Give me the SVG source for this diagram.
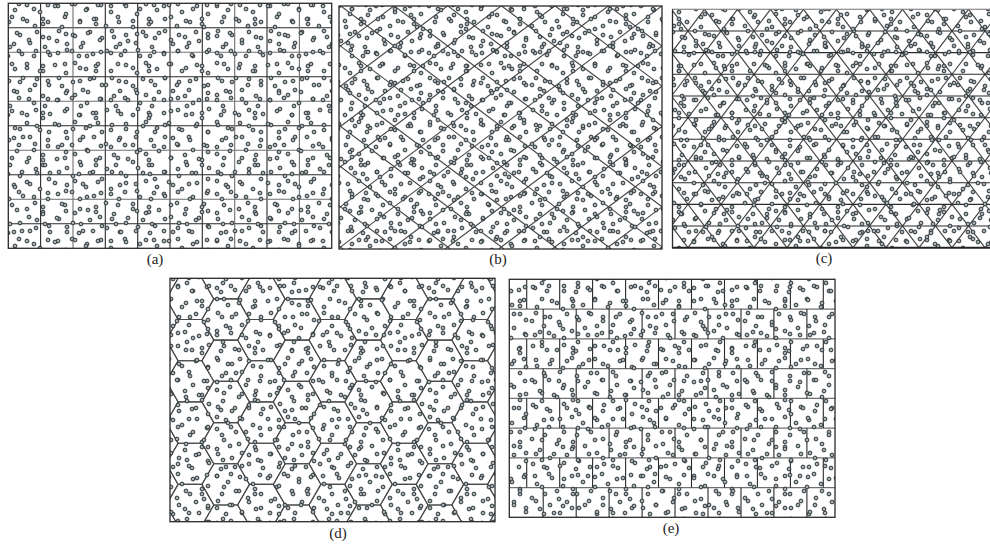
<svg xmlns="http://www.w3.org/2000/svg" xmlns:xlink="http://www.w3.org/1999/xlink" width="990" height="544" viewBox="0 0 990 544">
<style>
.dot{fill:#a9b4b8;stroke:#2b3135;stroke-width:1}
.bd{fill:none;stroke:#2a2a2a;stroke-width:1.3}
.dk{fill:none;stroke:#2a2a2a;stroke-width:1.1}
.lt{fill:none;stroke:#707070;stroke-width:1.1}
.gr{fill:none;stroke:#474747;stroke-width:1.15}
.hx{fill:none;stroke:#4a4a4a;stroke-width:1.1}
.lbl{font-family:"Liberation Serif","Times New Roman",serif;font-size:15px;fill:#222;text-anchor:middle}
</style>
<defs>
<pattern id="pA" patternUnits="userSpaceOnUse" width="53" height="47">
<circle class="dot" cx="5" cy="6" r="1.9"/><circle class="dot" cx="19" cy="4" r="1.9"/><circle class="dot" cx="34" cy="9" r="1.9"/><circle class="dot" cx="48" cy="5" r="1.9"/><circle class="dot" cx="12" cy="17" r="1.9"/><circle class="dot" cx="27" cy="21" r="1.9"/><circle class="dot" cx="43" cy="19" r="1.9"/><circle class="dot" cx="43" cy="24" r="1.9"/><circle class="dot" cx="6" cy="31" r="1.9"/><circle class="dot" cx="20" cy="35" r="1.9"/><circle class="dot" cx="37" cy="32" r="1.9"/><circle class="dot" cx="49" cy="38" r="1.9"/><circle class="dot" cx="14" cy="44" r="1.9"/><circle class="dot" cx="30" cy="43" r="1.9"/>
</pattern>
<pattern id="pB" patternUnits="userSpaceOnUse" width="71" height="59">
<circle class="dot" cx="4" cy="4" r="1.9"/><circle class="dot" cx="15" cy="10" r="1.9"/><circle class="dot" cx="27" cy="5" r="1.9"/><circle class="dot" cx="40" cy="12" r="1.9"/><circle class="dot" cx="55" cy="6" r="1.9"/><circle class="dot" cx="66" cy="14" r="1.9"/><circle class="dot" cx="9" cy="22" r="1.9"/><circle class="dot" cx="23" cy="19" r="1.9"/><circle class="dot" cx="35" cy="26" r="1.9"/><circle class="dot" cx="48" cy="22" r="1.9"/><circle class="dot" cx="62" cy="27" r="1.9"/><circle class="dot" cx="4" cy="36" r="1.9"/><circle class="dot" cx="17" cy="33" r="1.9"/><circle class="dot" cx="29" cy="40" r="1.9"/><circle class="dot" cx="43" cy="37" r="1.9"/><circle class="dot" cx="57" cy="41" r="1.9"/><circle class="dot" cx="67" cy="50" r="1.9"/><circle class="dot" cx="10" cy="47" r="1.9"/><circle class="dot" cx="22" cy="54" r="1.9"/><circle class="dot" cx="36" cy="51" r="1.9"/><circle class="dot" cx="50" cy="55" r="1.9"/><circle class="dot" cx="66" cy="34" r="1.9"/><circle class="dot" cx="45" cy="47" r="1.9"/><circle class="dot" cx="8" cy="56" r="1.9"/>
</pattern>
<pattern id="pD" patternUnits="userSpaceOnUse" width="43" height="37">
<circle class="dot" cx="8" cy="9" r="1.9"/><circle class="dot" cx="24" cy="15" r="1.9"/><circle class="dot" cx="36" cy="29" r="1.9"/>
</pattern>
<polygon id="hex" points="23.8,0 11.9,20.61 -11.9,20.61 -23.8,0 -11.9,-20.61 11.9,-20.61"/>
<clipPath id="cb"><rect x="339" y="6" width="323" height="243"/></clipPath>
<clipPath id="cc"><rect x="672" y="9.3" width="318" height="238.4"/></clipPath>
<clipPath id="cd"><rect x="170" y="278.3" width="325" height="243.4"/></clipPath>
</defs>
<rect x="0" y="0" width="990" height="544" fill="#fff"/>

<g id="panel-a">
<path class="dk" d="M40.6 3.3V248.3M105.3 3.3V248.3M137.7 3.3V248.3M170 3.3V248.3M202.3 3.3V248.3M267 3.3V248.3M8.3 27.8H331.7M8.3 76.8H331.7M8.3 125.8H331.7M8.3 174.8H331.7M8.3 223.8H331.7"/>
<path class="lt" d="M73 3.3V248.3M234.7 3.3V248.3M299.4 3.3V248.3M8.3 52.3H331.7M8.3 101.3H331.7M8.3 150.3H331.7M8.3 199.3H331.7"/>
<rect x="8.3" y="3.3" width="323.4" height="245" fill="url(#pA)"/>
<rect x="8.3" y="3.3" width="323.4" height="245" fill="url(#pB)"/>
<rect class="bd" x="8.3" y="3.3" width="323.4" height="245"/>
<text class="lbl" x="155" y="264">(a)</text>
</g>

<g id="panel-b">
<g clip-path="url(#cb)">
<path class="gr" d="M18.9 5.8L343.2 249M72.5 5.8L396.8 249M126.1 5.8L450.4 249M179.7 5.8L504 249M233.3 5.8L557.6 249M286.9 5.8L611.2 249M340.5 5.8L664.8 249M394.1 5.8L718.4 249M447.7 5.8L772 249M501.3 5.8L825.6 249M554.9 5.8L879.2 249M608.5 5.8L932.8 249"/>
<path class="gr" d="M340.5 5.8L16.2 249M394.1 5.8L69.8 249M447.7 5.8L123.4 249M501.3 5.8L177 249M554.9 5.8L230.6 249M608.5 5.8L284.2 249M662.1 5.8L337.8 249M715.7 5.8L391.4 249M769.3 5.8L445 249M822.9 5.8L498.6 249M876.5 5.8L552.2 249M930.1 5.8L605.8 249M983.7 5.8L659.4 249"/>
<rect x="339" y="6" width="323" height="243" fill="url(#pA)"/>
<rect x="339" y="6" width="323" height="243" fill="url(#pB)"/>
<rect x="339" y="6" width="323" height="243" fill="url(#pD)"/>
</g>
<rect class="bd" x="339" y="6" width="323" height="243"/>
<text class="lbl" x="498" y="264">(b)</text>
</g>

<g id="panel-c">
<g clip-path="url(#cc)">
<path class="gr" d="M506.5 9.3L688 247.7M539.5 9.3L721 247.7M572.5 9.3L754 247.7M605.5 9.3L787 247.7M638.5 9.3L820 247.7M671.5 9.3L853 247.7M704.5 9.3L886 247.7M737.5 9.3L919 247.7M770.5 9.3L952 247.7M803.5 9.3L985 247.7M836.5 9.3L1018 247.7M869.5 9.3L1051 247.7M902.5 9.3L1084 247.7M935.5 9.3L1117 247.7M968.5 9.3L1150 247.7"/>
<path class="gr" d="M671.5 9.3L490 247.7M704.5 9.3L523 247.7M737.5 9.3L556 247.7M770.5 9.3L589 247.7M803.5 9.3L622 247.7M836.5 9.3L655 247.7M869.5 9.3L688 247.7M902.5 9.3L721 247.7M935.5 9.3L754 247.7M968.5 9.3L787 247.7M1001.5 9.3L820 247.7M1034.5 9.3L853 247.7M1067.5 9.3L886 247.7M1100.5 9.3L919 247.7M1133.5 9.3L952 247.7M1166.5 9.3L985 247.7"/>
<path class="dk" d="M672 31H990M672 52.6H990M672 74.3H990M672 96H990M672 117.7H990M672 139.3H990M672 161H990M672 182.7H990M672 204.4H990M672 226H990"/>
<rect x="672" y="9.3" width="318" height="238.4" fill="url(#pA)"/>
<rect x="672" y="9.3" width="318" height="238.4" fill="url(#pB)"/>
<rect x="672" y="9.3" width="318" height="238.4" fill="url(#pD)"/>
</g>
<path class="lt" d="M672 9.3H990"/>
<path fill="none" stroke="#222" stroke-width="2" d="M672 247.7H990"/>
<path class="bd" d="M672.5 9.3V247.7"/>
<text class="lbl" x="824" y="263">(c)</text>
</g>

<g id="panel-d">
<g clip-path="url(#cd)">
<use class="hx" href="#hex" x="154.3" y="278.3"/><use class="hx" href="#hex" x="154.3" y="319.5"/><use class="hx" href="#hex" x="154.3" y="360.7"/><use class="hx" href="#hex" x="154.3" y="402"/><use class="hx" href="#hex" x="154.3" y="443.2"/><use class="hx" href="#hex" x="154.3" y="484.4"/><use class="hx" href="#hex" x="154.3" y="525.6"/>
<use class="hx" href="#hex" x="190" y="257.7"/><use class="hx" href="#hex" x="190" y="298.9"/><use class="hx" href="#hex" x="190" y="340.1"/><use class="hx" href="#hex" x="190" y="381.3"/><use class="hx" href="#hex" x="190" y="422.6"/><use class="hx" href="#hex" x="190" y="463.8"/><use class="hx" href="#hex" x="190" y="505"/>
<use class="hx" href="#hex" x="225.7" y="278.3"/><use class="hx" href="#hex" x="225.7" y="319.5"/><use class="hx" href="#hex" x="225.7" y="360.7"/><use class="hx" href="#hex" x="225.7" y="402"/><use class="hx" href="#hex" x="225.7" y="443.2"/><use class="hx" href="#hex" x="225.7" y="484.4"/><use class="hx" href="#hex" x="225.7" y="525.6"/>
<use class="hx" href="#hex" x="261.4" y="257.7"/><use class="hx" href="#hex" x="261.4" y="298.9"/><use class="hx" href="#hex" x="261.4" y="340.1"/><use class="hx" href="#hex" x="261.4" y="381.3"/><use class="hx" href="#hex" x="261.4" y="422.6"/><use class="hx" href="#hex" x="261.4" y="463.8"/><use class="hx" href="#hex" x="261.4" y="505"/>
<use class="hx" href="#hex" x="297.1" y="278.3"/><use class="hx" href="#hex" x="297.1" y="319.5"/><use class="hx" href="#hex" x="297.1" y="360.7"/><use class="hx" href="#hex" x="297.1" y="402"/><use class="hx" href="#hex" x="297.1" y="443.2"/><use class="hx" href="#hex" x="297.1" y="484.4"/><use class="hx" href="#hex" x="297.1" y="525.6"/>
<use class="hx" href="#hex" x="332.8" y="257.7"/><use class="hx" href="#hex" x="332.8" y="298.9"/><use class="hx" href="#hex" x="332.8" y="340.1"/><use class="hx" href="#hex" x="332.8" y="381.3"/><use class="hx" href="#hex" x="332.8" y="422.6"/><use class="hx" href="#hex" x="332.8" y="463.8"/><use class="hx" href="#hex" x="332.8" y="505"/>
<use class="hx" href="#hex" x="368.5" y="278.3"/><use class="hx" href="#hex" x="368.5" y="319.5"/><use class="hx" href="#hex" x="368.5" y="360.7"/><use class="hx" href="#hex" x="368.5" y="402"/><use class="hx" href="#hex" x="368.5" y="443.2"/><use class="hx" href="#hex" x="368.5" y="484.4"/><use class="hx" href="#hex" x="368.5" y="525.6"/>
<use class="hx" href="#hex" x="404.2" y="257.7"/><use class="hx" href="#hex" x="404.2" y="298.9"/><use class="hx" href="#hex" x="404.2" y="340.1"/><use class="hx" href="#hex" x="404.2" y="381.3"/><use class="hx" href="#hex" x="404.2" y="422.6"/><use class="hx" href="#hex" x="404.2" y="463.8"/><use class="hx" href="#hex" x="404.2" y="505"/>
<use class="hx" href="#hex" x="439.9" y="278.3"/><use class="hx" href="#hex" x="439.9" y="319.5"/><use class="hx" href="#hex" x="439.9" y="360.7"/><use class="hx" href="#hex" x="439.9" y="402"/><use class="hx" href="#hex" x="439.9" y="443.2"/><use class="hx" href="#hex" x="439.9" y="484.4"/><use class="hx" href="#hex" x="439.9" y="525.6"/>
<use class="hx" href="#hex" x="475.6" y="257.7"/><use class="hx" href="#hex" x="475.6" y="298.9"/><use class="hx" href="#hex" x="475.6" y="340.1"/><use class="hx" href="#hex" x="475.6" y="381.3"/><use class="hx" href="#hex" x="475.6" y="422.6"/><use class="hx" href="#hex" x="475.6" y="463.8"/><use class="hx" href="#hex" x="475.6" y="505"/>
<use class="hx" href="#hex" x="511.3" y="278.3"/><use class="hx" href="#hex" x="511.3" y="319.5"/><use class="hx" href="#hex" x="511.3" y="360.7"/><use class="hx" href="#hex" x="511.3" y="402"/><use class="hx" href="#hex" x="511.3" y="443.2"/><use class="hx" href="#hex" x="511.3" y="484.4"/><use class="hx" href="#hex" x="511.3" y="525.6"/>
<rect x="170" y="278.3" width="325" height="243.4" fill="url(#pA)"/>
<rect x="170" y="278.3" width="325" height="243.4" fill="url(#pB)"/>
</g>
<rect class="bd" x="170" y="278.3" width="325" height="243.4"/>
<text class="lbl" x="338" y="538">(d)</text>
</g>

<g id="panel-e">
<path class="lt" d="M509.3 309.1H835M509.3 338.9H835M509.3 368.6H835M509.3 398.4H835M509.3 428.1H835M509.3 457.9H835M509.3 487.6H835"/>
<path class="dk" d="M526.7 279.3V309.1M559.7 279.3V309.1M592.6 279.3V309.1M625.6 279.3V309.1M658.5 279.3V309.1M691.5 279.3V309.1M724.5 279.3V309.1M757.4 279.3V309.1M790.4 279.3V309.1M823.3 279.3V309.1
M543.2 309.1V338.9M576.2 309.1V338.9M609.1 309.1V338.9M642.1 309.1V338.9M675 309.1V338.9M708 309.1V338.9M741 309.1V338.9M773.9 309.1V338.9M806.9 309.1V338.9
M526.7 338.9V368.6M559.7 338.9V368.6M592.6 338.9V368.6M625.6 338.9V368.6M658.5 338.9V368.6M691.5 338.9V368.6M724.5 338.9V368.6M757.4 338.9V368.6M790.4 338.9V368.6M823.3 338.9V368.6
M543.2 368.6V398.4M576.2 368.6V398.4M609.1 368.6V398.4M642.1 368.6V398.4M675 368.6V398.4M708 368.6V398.4M741 368.6V398.4M773.9 368.6V398.4M806.9 368.6V398.4
M526.7 398.4V428.1M559.7 398.4V428.1M592.6 398.4V428.1M625.6 398.4V428.1M658.5 398.4V428.1M691.5 398.4V428.1M724.5 398.4V428.1M757.4 398.4V428.1M790.4 398.4V428.1M823.3 398.4V428.1
M543.2 428.1V457.9M576.2 428.1V457.9M609.1 428.1V457.9M642.1 428.1V457.9M675 428.1V457.9M708 428.1V457.9M741 428.1V457.9M773.9 428.1V457.9M806.9 428.1V457.9
M526.7 457.9V487.6M559.7 457.9V487.6M592.6 457.9V487.6M625.6 457.9V487.6M658.5 457.9V487.6M691.5 457.9V487.6M724.5 457.9V487.6M757.4 457.9V487.6M790.4 457.9V487.6M823.3 457.9V487.6
M543.2 487.6V517.3M576.2 487.6V517.3M609.1 487.6V517.3M642.1 487.6V517.3M675 487.6V517.3M708 487.6V517.3M741 487.6V517.3M773.9 487.6V517.3M806.9 487.6V517.3"/>
<rect x="509.3" y="279.3" width="325.7" height="238" fill="url(#pA)"/>
<rect x="509.3" y="279.3" width="325.7" height="238" fill="url(#pB)"/>
<rect class="bd" x="509.3" y="279.3" width="325.7" height="238"/>
<text class="lbl" x="671" y="533">(e)</text>
</g>
</svg>
